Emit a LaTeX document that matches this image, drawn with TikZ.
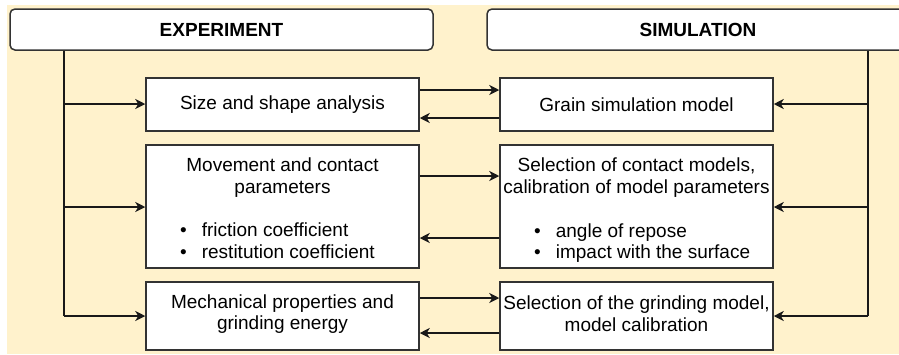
\documentclass[tikz,border=0pt]{standalone}
\usepackage{fontspec}
\setmainfont{Liberation Sans}
\usetikzlibrary{arrows.meta}
\definecolor{bg}{HTML}{FFF2CC}
\definecolor{edge}{HTML}{333333}
\begin{document}
\begin{tikzpicture}[x=1pt,y=-1pt,
  box/.style={draw=edge, line width=1.5pt, fill=white, inner sep=0pt, minimum width=273pt,
    font=\fontsize{19}{21.7}\selectfont, align=center},
  head/.style={draw=edge, line width=1.5pt, fill=white, rounded corners=5pt, inner sep=0pt,
    minimum height=41pt, font=\fontsize{19}{21.7}\selectfont\bfseries},
  txt/.style={font=\fontsize{19}{21.7}\selectfont, align=center, inner sep=0pt},
  lst/.style={font=\fontsize{19}{21.7}\selectfont, align=left, inner sep=0pt, anchor=west},
  conn/.style={line width=1.6pt, black!90},
  arr/.style={conn, -{Stealth[length=10pt,width=10pt,inset=3pt]}},
]
\useasboundingbox (0,0) rectangle (899,354);
\clip (0,0) rectangle (899,354);
\fill[bg] (7,5) rectangle (899,354);

% headers
\node[head, minimum width=423pt] (exp) at (221.5,29.5) {EXPERIMENT};
\node[head, minimum width=422pt] (sim) at (698,29.5) {SIMULATION};

% left boxes
\node[box, minimum height=53pt] (L1) at (282.5,104.5) {Size and shape analysis};
\node[box, minimum height=123pt] (L2) at (282.5,206.5) {};
\node[box, minimum height=68pt] (L3) at (282.5,316) {};
% right boxes
\node[box, minimum height=53pt] (R1) at (636.5,104.5) {Grain simulation model};
\node[box, minimum height=123pt] (R2) at (636.5,206.5) {};
\node[box, minimum height=68pt] (R3) at (636.5,316) {};

% texts
\node[txt] (L2h) at (282.5,177.5) {Movement and contact\\parameters};
\node[lst] (L2b) at (180,241) {•\hspace{15pt}friction coefficient\\•\hspace{15pt}restitution coefficient};
\node[txt] (R2h) at (636.5,177.5) {Selection of contact models,\\calibration of model parameters};
\node[lst] (R2b) at (534,243) {•\hspace{15pt}angle of repose\\•\hspace{15pt}impact with the surface};
\node[txt] (L3t) at (282.5,314) {Mechanical properties and\\grinding energy};
\node[txt] (R3t) at (636.5,314) {Selection of the grinding model,\\model calibration};

% left trunk
\coordinate (ll) at (64,316);
\draw[conn] (exp.south -| ll) -- (ll);
\draw[arr] ([yshift=0.5pt]L1.west -| ll) -- ([yshift=0.5pt]L1.west);
\draw[arr] ([yshift=-0.5pt]L2.west -| ll) -- ([yshift=-0.5pt]L2.west);
\draw[arr] (ll) -- (L3.west);

% right trunk
\coordinate (rl) at (868,316);
\draw[conn] (sim.south -| rl) -- (rl);
\draw[arr] ([yshift=0.5pt]R1.east -| rl) -- ([yshift=0.5pt]R1.east);
\draw[arr] ([yshift=-0.5pt]R2.east -| rl) -- ([yshift=-0.5pt]R2.east);
\draw[arr] (rl) -- (R3.east);

% middle links
\draw[arr] ([yshift=14.5pt]L1.east) -- ([yshift=14.5pt]R1.west);
\draw[arr] ([yshift=-13.5pt]R1.west) -- ([yshift=-13.5pt]L1.east);
\draw[arr] ([yshift=30.5pt]L2.east) -- ([yshift=30.5pt]R2.west);
\draw[arr] ([yshift=-31.5pt]R2.west) -- ([yshift=-31.5pt]L2.east);
\draw[arr] ([yshift=18pt]L3.east) -- ([yshift=18pt]R3.west);
\draw[arr] ([yshift=-17pt]R3.west) -- ([yshift=-17pt]L3.east);
\end{tikzpicture}
\end{document}
